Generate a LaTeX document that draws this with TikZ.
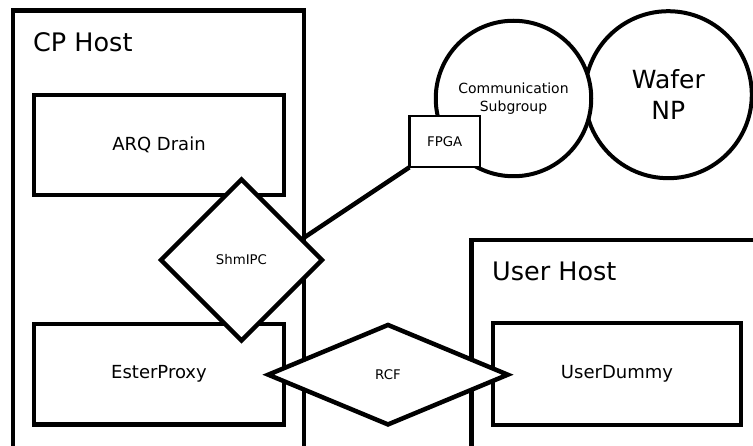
\documentclass[tikz,border=0pt]{standalone}
\usepackage{fontspec}
\setmainfont{DejaVu Sans}
\usetikzlibrary{shapes.geometric}
\begin{document}
\begin{tikzpicture}[x=1pt,y=-1pt,line join=miter,
  container/.style={draw,rectangle,line width=4.5pt,fill=white,inner sep=0pt,outer sep=0pt},
  title/.style={anchor=base west,inner sep=0pt,font=\fontsize{25.5}{30}\selectfont},
  box/.style={draw,rectangle,line width=4.5pt,fill=white,inner sep=0pt,outer sep=0pt,font=\fontsize{18}{22}\selectfont},
  small/.style={draw,rectangle,line width=2.3pt,fill=white,inner sep=0pt,outer sep=0pt,font=\fontsize{13.3}{16}\selectfont},
  bubble/.style={draw,circle,line width=4pt,fill=white,inner sep=0pt,outer sep=0pt,align=center},
  link/.style={draw,diamond,line width=4.5pt,fill=white,inner sep=0pt,outer sep=0pt,font=\fontsize{13.3}{16}\selectfont},
  wire/.style={line width=4.5pt}]
\useasboundingbox (0,0) rectangle (753,446);
\clip (0,0) rectangle (753,446);
\fill[white] (0,0) rectangle (753,446);
% containers
\node[container,minimum width=291pt,minimum height=460pt] (cphost) at (158.5,240.5) {};
\node[title] (cptitle) at (33,52) {CP Host};
\node[container,minimum width=310pt,minimum height=230pt] (userhost) at (626.5,355) {};
\node[title] (usertitle) at (492,281) {User Host};
% inner boxes
\node[box,minimum width=250pt,minimum height=100pt] (arq) at (159,145) {ARQ Drain};
\node[box,minimum width=250pt,minimum height=100.5pt] (ester) at (159,374.3) {EsterProxy};
\node[box,minimum width=248pt,minimum height=102pt] (dummy) at (617,374) {UserDummy};
% circles
\node[bubble,minimum size=167pt,font=\fontsize{25}{31}\selectfont] (wafer) at (668.3,94.7) {Wafer\\NP};
\node[bubble,minimum size=155.5pt,font=\fontsize{14}{18}\selectfont] (comm) at (513.5,98.5) {Communication\\Subgroup};
\node[small,minimum width=70.7pt,minimum height=51.3pt] (fpga) at (444.7,141.7) {FPGA};
% diamonds
\node[link,minimum width=161pt,minimum height=161pt] (shm) at (241.5,260) {ShmIPC};
\draw[wire] (fpga.south west) -- (shm.19);
\node[link,minimum width=239.5pt,minimum height=99.5pt] (rcf) at (388,374.7) {RCF};
\end{tikzpicture}
\end{document}
